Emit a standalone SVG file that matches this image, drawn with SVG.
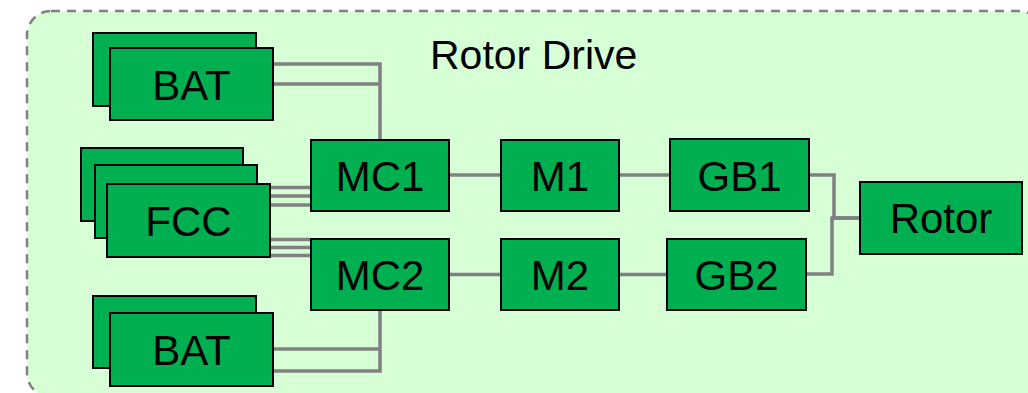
<svg xmlns="http://www.w3.org/2000/svg" width="1028" height="393" viewBox="0 0 1028 393">
<style>
.box{fill:#00B050;stroke:#000;stroke-width:2}
.lbl{font-family:"Liberation Sans",Arial,sans-serif;font-size:42px;fill:#000;text-anchor:middle}
.title{font-family:"Liberation Sans",Arial,sans-serif;font-size:41px;fill:#000}
.c{fill:none;stroke:#808080;stroke-width:3.5}
</style>
<rect width="1028" height="393" fill="#fff"/>
<rect x="27" y="11" width="1016" height="386" rx="24" ry="24" fill="#D6FFD6" stroke="#808080" stroke-width="2.5" stroke-dasharray="9 7"/>
<text class="title" x="430" y="69">Rotor Drive</text>
<g id="connectors">
<path class="c" d="M273 64H380V140"/>
<path class="c" d="M273 84H380"/>
<path class="c" d="M273 349H380"/>
<path class="c" d="M273 371H380V310"/>
<path class="c" d="M270 187.5H310"/>
<path class="c" d="M270 196H311"/>
<path class="c" d="M270 205H311"/>
<path class="c" d="M270 239.5H310"/>
<path class="c" d="M270 247.5H311"/>
<path class="c" d="M270 255.5H311"/>
<path class="c" d="M449 175H501"/>
<path class="c" d="M619 175H670"/>
<path class="c" d="M449 274.5H501"/>
<path class="c" d="M619 274.5H667"/>
<path class="c" d="M809 175H834V218H860"/>
<path class="c" d="M806 274H832V218H860"/>
</g>
<g id="bat1">
<rect class="box" x="93" y="33" width="163" height="73"/>
<rect class="box" x="110" y="48" width="163" height="72"/>
<text class="lbl" x="191.5" y="100">BAT</text>
</g>
<g id="fcc">
<rect class="box" x="81" y="148" width="162" height="73"/>
<rect class="box" x="95" y="165" width="162" height="73"/>
<rect class="box" x="107" y="184" width="163" height="73"/>
<text class="lbl" x="188.5" y="236">FCC</text>
</g>
<g id="bat2">
<rect class="box" x="93" y="296" width="163" height="72"/>
<rect class="box" x="110" y="313" width="163" height="73"/>
<text class="lbl" x="191.5" y="365">BAT</text>
</g>
<g id="mc1">
<rect class="box" x="311" y="140" width="138" height="71"/>
<text class="lbl" x="380" y="191">MC1</text>
</g>
<g id="mc2">
<rect class="box" x="311" y="239" width="138" height="71"/>
<text class="lbl" x="380" y="290">MC2</text>
</g>
<g id="m1">
<rect class="box" x="501" y="140" width="118" height="71"/>
<text class="lbl" x="560" y="191">M1</text>
</g>
<g id="m2">
<rect class="box" x="501" y="239" width="118" height="71"/>
<text class="lbl" x="560" y="290">M2</text>
</g>
<g id="gb1">
<rect class="box" x="670" y="139" width="139" height="72"/>
<text class="lbl" x="739.5" y="190.5">GB1</text>
</g>
<g id="gb2">
<rect class="box" x="667" y="239" width="139" height="71"/>
<text class="lbl" x="736.5" y="290">GB2</text>
</g>
<g id="rotor">
<rect class="box" x="860" y="182" width="162" height="72"/>
<text class="lbl" x="941" y="233">Rotor</text>
</g>
</svg>
